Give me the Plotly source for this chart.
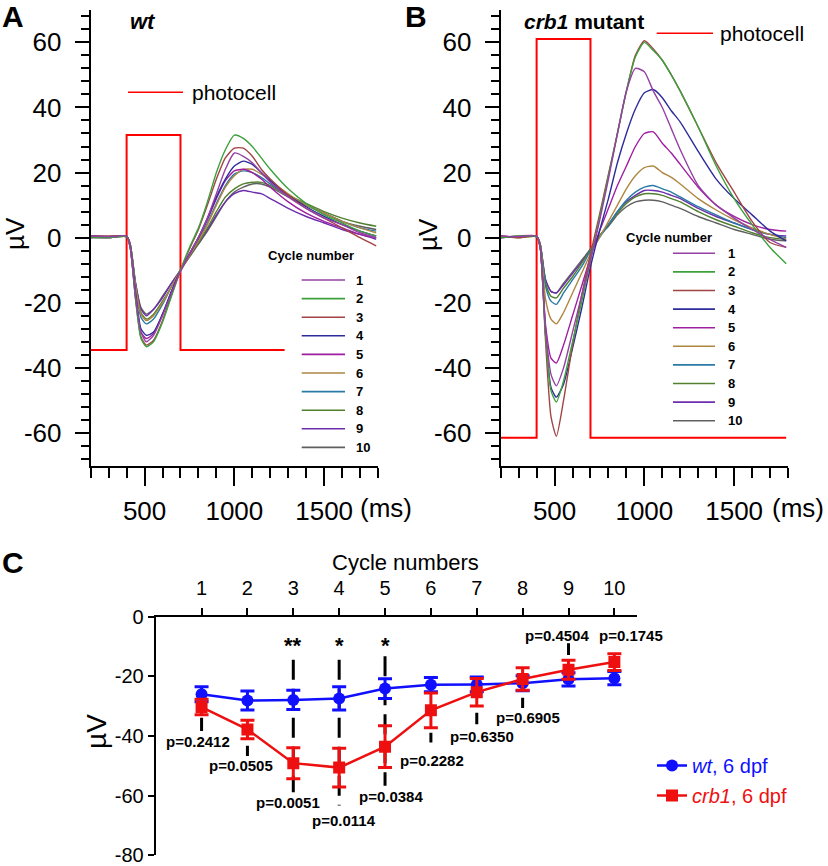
import plotly.graph_objects as go

W, H = 828, 866
FONT = "Liberation Sans, Arial, sans-serif"

# ---- panels A / B : ERG sweeps (uV) sampled at these times (ms)
t_ms = [200, 300, 400, 420, 450, 480, 510, 550, 600, 650, 700, 750, 800, 850, 900,
        950, 1000, 1050, 1100, 1150, 1200, 1300, 1400, 1500, 1600, 1700, 1790]

wt_cyc1 = [0.5, 0.3, 0.5, -3, -18, -29, -32, -30, -24, -17, -10.5, -5, 0, 6, 13.5, 21, 26, 25, 23, 20, 17, 12.5, 9, 6, 4, 1.5, 0]
wt_cyc2 = [0, 0, 0.3, -3, -19, -31, -33.5, -32, -26, -18, -10, -3, 3, 11, 20, 27, 31.5, 30.5, 28, 24.5, 21, 15, 10.5, 7, 4.5, 2, 0.5]
wt_cyc3 = [0.5, 0.5, 0.3, -3, -19, -30.5, -33, -31.5, -25.5, -17.5, -10, -3.5, 2.5, 10, 18, 24.5, 27.5, 27.5, 25, 21, 18, 13, 9, 6, 3, 0, -2.5]
wt_cyc4 = [0.5, 0.3, 0.5, -2.5, -17, -28, -30, -29, -23.5, -16.5, -10, -5, 0, 6, 12.5, 18, 22, 23.5, 22.5, 20, 17.5, 13, 9.5, 6.5, 4, 2, 0.5]
wt_cyc5 = [0, 0, 0.3, -3, -18, -29, -31, -29.5, -23.5, -16.5, -10, -5, 0, 5.5, 12, 17.5, 20.5, 21, 20, 18, 15.5, 11, 7.5, 5, 3, 1, 0]
wt_cyc6 = [0.5, 0, 0.5, -2, -15, -23.5, -25.5, -24, -20, -15, -10, -5.5, -1, 4, 10, 15.5, 19, 21, 21, 19.5, 17.5, 13.5, 10, 7.5, 5, 3, 1.5]
wt_cyc7 = [0, 0.3, 0.3, -2, -15, -24.5, -26.5, -25, -20.5, -15, -10, -5, -0.5, 4.5, 10.5, 16, 19.5, 20.5, 20, 18.5, 16.5, 13, 10, 7.5, 5, 3, 2]
wt_cyc8 = [0.3, 0, 0.3, -2, -15, -23, -25, -23.5, -19.5, -15, -10, -5.5, -1.5, 3, 8, 12.5, 15, 16.5, 17, 17, 16, 13, 10.5, 8, 6, 4.5, 3.5]
wt_cyc9 = [0.5, 0, 0.5, -2, -14, -22, -24, -22, -18.5, -14, -10, -5.5, -1.5, 2.5, 7, 11, 13.5, 14.5, 14, 13.5, 12, 9, 6.5, 4.5, 2.5, 1, -0.5]
wt_cyc10 = [0, 0.3, 0.3, -2, -14, -21.5, -23.5, -22, -18, -14, -10, -6, -2, 2, 6.5, 11, 14, 15.5, 16.5, 16.5, 15.5, 12.5, 10, 7.5, 5, 3.5, 2.5]

crb_cyc1 = [0.5, 0.3, 0.5, -3, -28, -42, -45.5, -40, -29, -18, -7, 5, 18, 32, 45, 52, 51, 45, 40, 33.5, 27, 16, 10, 6, 2.5, -0.5, -3]
crb_cyc2 = [0, 0.5, 0.3, -3, -30, -47, -50.5, -44, -32, -20, -7, 6, 19, 32, 45, 55.5, 60, 57.5, 54.5, 50, 45, 34, 22, 12, 4, -3, -8]
crb_cyc3 = [0.5, 0, 0.5, -3, -32, -55, -61, -50, -33, -18, -5, 7, 19.5, 32, 45, 56, 60.5, 58, 54.5, 50, 45, 34, 23, 14, 5, -1.5, -3]
crb_cyc4 = [0, 0.3, 0.3, -3, -30, -46, -49, -45, -34, -22, -9, 2, 12, 23, 32, 39.5, 44.5, 45.5, 43, 39, 35.5, 26.5, 18, 12, 7, 2, -1]
crb_cyc5 = [0, 0.5, 0.5, -3, -27, -37, -38.5, -33, -24, -15, -6, 2, 9, 16, 22, 28, 32, 32.5, 29, 26, 22.5, 15.5, 10, 6.5, 4, 2.5, 2]
crb_cyc6 = [0.3, 0, 0.3, -2, -19, -25, -26.5, -23, -17, -11, -5, 0, 5, 10, 15, 19, 21.5, 22, 20, 18.5, 16.5, 12, 8.5, 5.5, 3, 1, -0.5]
crb_cyc7 = [0, 0.3, 0.5, -2, -15, -19.5, -20.5, -17, -13, -9, -4, 0, 4, 8, 11.5, 14, 15.5, 16, 15, 14, 12.5, 9.5, 7, 4.5, 2.5, 1, 0]
crb_cyc8 = [0.5, 0, 0.3, -2, -14, -18, -18.5, -15.5, -12, -8, -3.5, 0.5, 4, 7.5, 10.5, 12.5, 13.5, 13.5, 13, 12, 11, 8, 5.5, 3.5, 1.5, 0, -0.5]
crb_cyc9 = [0, 0.3, 0.3, -2, -13, -16.5, -17, -14.5, -11, -7.5, -3.5, 0.5, 4, 8, 11, 13, 14.5, 14.5, 14, 13, 12, 9, 6.5, 4.5, 2.5, 1, 0.5]
crb_cyc10 = [0.3, 0, 0.5, -2, -13, -16.5, -17, -14, -10.5, -7, -3.5, 0.5, 3.5, 7, 9.5, 11, 11.5, 11.5, 11, 10, 9, 6.5, 4.5, 2.5, 1, -0.5, -1]

photo_t_wt = [200, 400, 400, 700, 700, 1280]
photo_v_wt = [-34.5, -34.5, 31.5, 31.5, -34.5, -34.5]
photo_t_crb = [200, 400, 400, 700, 700, 1790]
photo_v_crb = [-61.5, -61.5, 61, 61, -61.5, -61.5]

cycle_labels = ["1", "2", "3", "4", "5", "6", "7", "8", "9", "10"]
cycle_colors = ["#9440a4", "#3ca03c", "#a24444", "#2c2c9c", "#a01ea0",
                "#ae8640", "#2a7aa6", "#52802e", "#6e2cae", "#606060"]

# ---- panel C : amplitude per cycle
cycles = [1, 2, 3, 4, 5, 6, 7, 8, 9, 10]
wt_mean = [-26.0, -28.1, -27.9, -27.4, -24.1, -22.8, -22.7, -22.3, -21.0, -20.6]
wt_err = [2.5, 3.2, 3.2, 3.9, 3.3, 2.4, 2.5, 2.5, 2.2, 2.2]
crb_mean = [-30.3, -37.8, -49.1, -50.6, -43.6, -31.4, -25.3, -20.9, -17.8, -15.2]
crb_err = [2.6, 3.1, 5.2, 6.5, 7.0, 5.8, 4.6, 3.8, 3.2, 2.8]
p_values = ["p=0.2412", "p=0.0505", "p=0.0051", "p=0.0114", "p=0.0384",
            "p=0.2282", "p=0.6350", "p=0.6905", "p=0.4504", "p=0.1745"]
stars = {3: "**", 4: "*", 5: "*"}


def px(x):
    return x / W


def py(y):
    return 1 - y / H


fig = go.Figure()

wt_sweeps = [wt_cyc1, wt_cyc2, wt_cyc3, wt_cyc4, wt_cyc5, wt_cyc6, wt_cyc7, wt_cyc8, wt_cyc9, wt_cyc10]
crb_sweeps = [crb_cyc1, crb_cyc2, crb_cyc3, crb_cyc4, crb_cyc5, crb_cyc6, crb_cyc7, crb_cyc8, crb_cyc9, crb_cyc10]

for axes, sweeps, pt, pv in [(("x", "y"), wt_sweeps, photo_t_wt, photo_v_wt),
                             (("x2", "y2"), crb_sweeps, photo_t_crb, photo_v_crb)]:
    fig.add_trace(go.Scatter(x=pt, y=pv, mode="lines", xaxis=axes[0], yaxis=axes[1],
                             line=dict(color="#ff0000", width=2), showlegend=False))
    # later cycles drawn first so early (large) ones stay visible
    for i in reversed(range(10)):
        fig.add_trace(go.Scatter(
            x=t_ms, y=sweeps[i], mode="lines", xaxis=axes[0], yaxis=axes[1],
            line=dict(color=cycle_colors[i], width=1.4, shape="spline", smoothing=0.6),
            showlegend=False))

fig.add_trace(go.Scatter(
    x=cycles, y=wt_mean, xaxis="x3", yaxis="y3", mode="lines+markers",
    name='<span style="color:#1010ff"><i>wt</i>, 6 dpf</span>', legendgroup="a",
    line=dict(color="#1010ff", width=2.5),
    marker=dict(symbol="circle", size=12, color="#1010ff"),
    error_y=dict(type="data", array=wt_err, color="#1010ff", thickness=3, width=7)))
fig.add_trace(go.Scatter(
    x=cycles, y=crb_mean, xaxis="x3", yaxis="y3", mode="lines+markers",
    name='<span style="color:#ee1010"><i>crb1</i>, 6 dpf</span>', legendgroup="b",
    line=dict(color="#ee1010", width=2.5),
    marker=dict(symbol="square", size=12, color="#ee1010"),
    error_y=dict(type="data", array=crb_err, color="#ee1010", thickness=3, width=7)))

axis_common = dict(showline=True, linecolor="black", linewidth=2, ticks="outside",
                   tickcolor="black", tickwidth=2, showgrid=False, zeroline=False,
                   automargin=False, ticklabeloverflow="allow",
                   tickfont=dict(family=FONT, size=26, color="black"))

ab_yticks = [-60, -40, -20, 0, 20, 40, 60]
for n, (x0, x1) in [("", (90.7, 378)), ("2", (500.7, 788))]:
    fig.layout["xaxis" + n] = dict(
        axis_common, domain=[px(x0), px(x1)], range=[200, 1800], anchor="y" + n,
        tickvals=[500, 1000, 1500], ticklen=18, ticklabelstandoff=3,
        minor=dict(tick0=0, dtick=100, ticks="outside", ticklen=10, tickwidth=2, tickcolor="black"))
    fig.layout["yaxis" + n] = dict(
        axis_common, domain=[py(465.5), py(9.8)], range=[-70, 70], anchor="x" + n,
        tickvals=ab_yticks, ticktext=[str(v) for v in ab_yticks], ticklen=14, ticklabelstandoff=8,
        minor=dict(tick0=0, dtick=4, ticks="outside", ticklen=8, tickwidth=2, tickcolor="black"))

c_yticks = [-80, -60, -40, -20, 0]
fig.layout["xaxis3"] = dict(
    axis_common, domain=[px(155.7), px(637.3)], range=[0, 10.5], anchor="y3", side="top",
    tickvals=cycles, ticklen=7, ticklabelstandoff=5, tickfont=dict(family=FONT, size=20, color="black"))
fig.layout["yaxis3"] = dict(
    axis_common, domain=[py(855.3), py(616.7)], range=[-80, 0], anchor="x3",
    tickvals=c_yticks, ticktext=[str(v) for v in c_yticks], ticklen=6,
    tickfont=dict(family=FONT, size=20, color="black"))

# significance guide lines in panel C
guides = [(1, -33.9, -38.3), (2, -43.3, -46.7), (3, -14.4, -58.9), (4, -14.4, -63.3),
          (5, -13.3, -56.7), (6, -38.9, -42.2), (7, -32.2, -36.1), (8, -27.2, -30.6),
          (9, -8.9, -12.8)]
for c, y0, y1 in guides:
    fig.add_shape(type="line", xref="x3", yref="y3", x0=c, x1=c, y0=y0, y1=y1, layer="below",
                  line=dict(color="black", width=3, dash="20px,9px"))

p_pos = [(0.92, -42.0), (1.87, -49.8), (2.88, -62.2), (4.1, -68.3), (5.13, -60.3),
         (6.03, -48.1), (7.12, -40.3), (8.12, -33.7), (8.74, -6.4), (10.37, -6.4)]
for txt, (x, y) in zip(p_values, p_pos):
    fig.add_annotation(x=x, y=y, xref="x3", yref="y3", text="<b>" + txt + "</b>", showarrow=False,
                       xanchor="center", yanchor="middle", borderpad=0,
                       font=dict(family=FONT, size=15, color="black"))
for c, s in stars.items():
    fig.add_annotation(x=c, y=-9.6, xref="x3", yref="y3", text="<b>" + s + "</b>", showarrow=False,
                       xanchor="center", yanchor="middle",
                       font=dict(family=FONT, size=22, color="black"))

# cycle-number keys and photocell keys for A and B
keys = [dict(title=(266.7, 255), line=(301.7, 345), num=355, row0=280),
        dict(title=(625, 237.3), line=(673, 715), num=726.7, row0=253.3)]
for k in keys:
    fig.add_annotation(x=px(k["title"][0]), y=py(k["title"][1]), xref="paper", yref="paper",
                       xanchor="left", yanchor="middle", text="<b>Cycle number</b>", showarrow=False,
                       borderpad=0, font=dict(family=FONT, size=13, color="black"))
    for i, lab in enumerate(cycle_labels):
        yy = k["row0"] + 18.6 * i
        fig.add_shape(type="line", xref="paper", yref="paper", x0=px(k["line"][0]), x1=px(k["line"][1]),
                      y0=py(yy), y1=py(yy), line=dict(color=cycle_colors[i], width=1.6))
        fig.add_annotation(x=px(k["num"]), y=py(yy), xref="paper", yref="paper", xanchor="left",
                           yanchor="middle", text="<b>" + lab + "</b>", showarrow=False, borderpad=0,
                           font=dict(family=FONT, size=13, color="black"))

for (x0, x1, yy, tx) in [(128, 183, 92.3, 190), (656.7, 713, 33.3, 718)]:
    fig.add_shape(type="line", xref="paper", yref="paper", x0=px(x0), x1=px(x1), y0=py(yy), y1=py(yy),
                  line=dict(color="#ff0000", width=1.6))
    fig.add_annotation(x=px(tx), y=py(yy), xref="paper", yref="paper", xanchor="left", yanchor="middle",
                       text="photocell", showarrow=False, font=dict(family=FONT, size=21, color="black"))

texts = [
    ("<b>A</b>", 13, 16.5, 30, "center", 0),
    ("<b>B</b>", 416, 16.5, 30, "center", 0),
    ("<b>C</b>", 13, 562.5, 30, "center", 0),
    ("<b><i>wt</i></b>", 128, 22, 22, "left", 0),
    ("<b><i>crb1</i> mutant</b>", 521.7, 21, 21, "left", 0),
    ("(ms)", 386, 508, 26, "center", 0),
    ("(ms)", 798, 508, 26, "center", 0),
    ("Cycle numbers", 405, 562, 22, "center", 0),
    ("\u00b5V", 15, 234, 26, "center", -90),
    ("\u00b5V", 428, 234, 26, "center", -90),
    ("\u00b5V", 96, 732, 28, "center", -90),
]
for txt, x, y, size, anchor, ang in texts:
    fig.add_annotation(x=px(x), y=py(y), xref="paper", yref="paper", xanchor=anchor, yanchor="middle",
                       text=txt, showarrow=False, textangle=ang,
                       font=dict(family=FONT, size=size, color="black"))

fig.update_layout(
    width=W, height=H, margin=dict(l=0, r=0, t=0, b=0, autoexpand=False),
    paper_bgcolor="white", plot_bgcolor="white",
    font=dict(family=FONT, color="black"),
    showlegend=True,
    legend=dict(x=px(652), y=py(746), xanchor="left", yanchor="top", bgcolor="rgba(0,0,0,0)",
                font=dict(family=FONT, size=20), tracegroupgap=1, traceorder="grouped"),
)

fig.write_html("out.html", config={"displayModeBar": False},
               post_script="document.body.style.margin='0';document.body.style.overflow='hidden';")
